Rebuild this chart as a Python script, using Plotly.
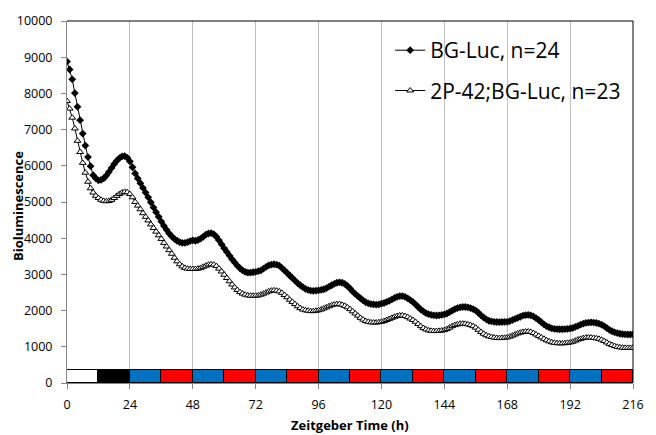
import plotly.graph_objects as go

# Zeitgeber time (h), hourly sampling
zt_hours = list(range(0, 217))

# Mean bioluminescence, BG-Luc (n=24)
bg_luc = [
    8880, 8660, 8390, 8010, 7630, 7260, 6890, 6560, 6240, 5990, 5740, 5650,
    5600, 5610, 5650, 5730, 5830, 5940, 6050, 6140, 6210, 6260, 6270, 6220,
    6120, 5960, 5790, 5650, 5520, 5390, 5260, 5130, 4990, 4850, 4720, 4590,
    4460, 4340, 4230, 4130, 4050, 3980, 3930, 3890, 3870, 3870, 3890, 3920,
    3940, 3930, 3950, 3990, 4040, 4100, 4130, 4140, 4110, 4040, 3940, 3830,
    3720, 3620, 3520, 3420, 3330, 3240, 3170, 3110, 3070, 3050, 3050, 3060,
    3070, 3090, 3110, 3160, 3210, 3250, 3270, 3280, 3270, 3240, 3180, 3110,
    3040, 2970, 2900, 2830, 2760, 2700, 2650, 2600, 2570, 2550, 2545, 2550,
    2560, 2570, 2590, 2620, 2660, 2700, 2740, 2770, 2780, 2770, 2740, 2680,
    2610, 2530, 2460, 2400, 2340, 2280, 2230, 2200, 2180, 2170, 2165, 2170,
    2190, 2210, 2240, 2270, 2310, 2350, 2380, 2400, 2400, 2380, 2340, 2290,
    2240, 2170, 2100, 2030, 1980, 1930, 1900, 1880, 1870, 1865, 1870, 1880,
    1895, 1920, 1960, 2000, 2040, 2070, 2090, 2100, 2100, 2090, 2070, 2040,
    2000, 1940, 1870, 1810, 1760, 1720, 1700, 1690, 1685, 1680, 1685, 1690,
    1690, 1710, 1740, 1770, 1800, 1830, 1860, 1875, 1880, 1870, 1840, 1790,
    1740, 1680, 1620, 1570, 1540, 1510, 1495, 1490, 1485, 1485, 1490, 1495,
    1505, 1520, 1550, 1580, 1610, 1640, 1660, 1670, 1675, 1670, 1660, 1640,
    1610, 1570, 1520, 1470, 1430, 1400, 1380, 1360, 1350, 1345, 1340, 1340,
    1345,
]

# Mean bioluminescence, 2P-42;BG-Luc (n=23)
p42_bg_luc = [
    7790, 7580, 7330, 7030, 6690, 6380, 6080, 5810, 5560, 5380, 5260, 5170,
    5110, 5060, 5030, 5020, 5030, 5060, 5110, 5170, 5220, 5260, 5280, 5270,
    5220, 5130, 5000, 4900, 4800, 4690, 4590, 4490, 4380, 4280, 4180, 4080,
    3980, 3870, 3770, 3670, 3570, 3460, 3360, 3280, 3220, 3180, 3160, 3150,
    3150, 3150, 3160, 3180, 3210, 3240, 3270, 3280, 3270, 3230, 3160, 3080,
    2990, 2900, 2810, 2720, 2640, 2570, 2510, 2470, 2440, 2420, 2410, 2410,
    2410, 2420, 2440, 2470, 2500, 2530, 2550, 2560, 2550, 2530, 2490, 2430,
    2370, 2300, 2240, 2180, 2120, 2070, 2030, 2010, 1995, 1985, 1985, 1995,
    2010, 2030, 2060, 2090, 2120, 2150, 2170, 2180, 2180, 2160, 2130, 2090,
    2040, 1980, 1920, 1860, 1800, 1750, 1710, 1690, 1675, 1670, 1670, 1680,
    1690, 1710, 1740, 1770, 1800, 1830, 1850, 1865, 1865, 1850, 1820, 1780,
    1740, 1690, 1630, 1570, 1520, 1480, 1455, 1440, 1435, 1435, 1440, 1450,
    1460, 1490, 1530, 1570, 1600, 1620, 1635, 1640, 1635, 1620, 1600, 1570,
    1530, 1470, 1410, 1360, 1320, 1290, 1270, 1255, 1245, 1240, 1245, 1250,
    1260, 1280, 1310, 1340, 1370, 1390, 1410, 1420, 1420, 1410, 1380, 1340,
    1300, 1260, 1220, 1180, 1150, 1125, 1110, 1100, 1095, 1095, 1100, 1110,
    1120, 1140, 1170, 1200, 1220, 1240, 1255, 1260, 1255, 1245, 1235, 1220,
    1195, 1160, 1120, 1080, 1050, 1020, 1000, 985, 975, 970, 970, 970,
    975,
]

# Light schedule: 12 h segments (light, dark, then alternating blue / red)
phase_start = [0, 12] + list(range(24, 216, 12))
phase_color = ["white", "black"] + ["#0070C0", "#FF0000"] * 8
PHASE_LEN = 12
BAR_TOP = 355

x_ticks = list(range(0, 217, 24))
y_ticks = list(range(0, 10001, 1000))

FONT = "Open Sans, sans-serif"

fig = go.Figure()

# Light-regime strip along the bottom of the plot
fig.add_trace(go.Bar(
    x=[s + PHASE_LEN / 2 for s in phase_start],
    y=[BAR_TOP] * len(phase_start),
    width=[PHASE_LEN] * len(phase_start),
    marker=dict(color=phase_color, line=dict(color="black", width=1)),
    showlegend=False,
    hoverinfo="skip",
))

fig.add_trace(go.Scatter(
    x=zt_hours, y=bg_luc, mode="lines+markers",
    name="BG-Luc, n=24", legendgroup="a",
    line=dict(color="black", width=1),
    marker=dict(symbol="diamond", size=6, color="black"),
))

fig.add_trace(go.Scatter(
    x=zt_hours, y=p42_bg_luc, mode="lines+markers",
    name="2P-42;BG-Luc, n=23", legendgroup="b",
    line=dict(color="black", width=1),
    marker=dict(symbol="triangle-up", size=6, color="white",
                line=dict(color="black", width=1)),
))

# Black frame on top and right of the plot area
fig.add_shape(type="line", xref="paper", yref="paper", x0=0, x1=1, y0=1, y1=1,
              line=dict(color="black", width=1))
fig.add_shape(type="line", xref="paper", yref="paper", x0=1, x1=1, y0=0, y1=1,
              line=dict(color="black", width=1))

# Axis titles
fig.add_annotation(text="<b>Zeitgeber Time (h)</b>", xref="paper", yref="paper",
                   x=0.5, y=0, xanchor="center", yanchor="middle", yshift=-42,
                   showarrow=False, font=dict(family=FONT, size=13, color="black"))
fig.add_annotation(text="<b>Bioluminescence</b>", xref="paper", yref="paper",
                   x=0, y=0.5, xanchor="center", yanchor="middle", xshift=-49, yshift=-4,
                   textangle=-90, showarrow=False,
                   font=dict(family=FONT, size=13, color="black"))

fig.update_layout(
    width=656, height=435,
    margin=dict(l=67, r=13, t=15, b=52),
    paper_bgcolor="white", plot_bgcolor="white",
    font=dict(family=FONT, size=12.5, color="black"),
    barmode="overlay",
    bargap=0,
    legend=dict(
        x=0.571, y=0.975, xanchor="left", yanchor="top",
        font=dict(family=FONT, size=21, color="black"),
        bgcolor="rgba(0,0,0,0)",
        itemwidth=30,
        tracegroupgap=10,
    ),
    xaxis=dict(
        range=[0, 216], tickvals=x_ticks, ticktext=[str(v) for v in x_ticks],
        showgrid=True, gridcolor="#BFBFBF", gridwidth=1,
        showline=True, linecolor="#868686", linewidth=1,
        ticks="outside", ticklen=5, tickcolor="#868686",
        ticklabelstandoff=5,
        zeroline=False,
    ),
    yaxis=dict(
        range=[0, 10000], tickvals=y_ticks, ticktext=[str(v) for v in y_ticks],
        showgrid=False,
        showline=True, linecolor="#868686", linewidth=1,
        ticks="outside", ticklen=5, tickcolor="#868686",
        ticklabelstandoff=6,
        zeroline=False,
    ),
)

fig.write_html("out.html")
